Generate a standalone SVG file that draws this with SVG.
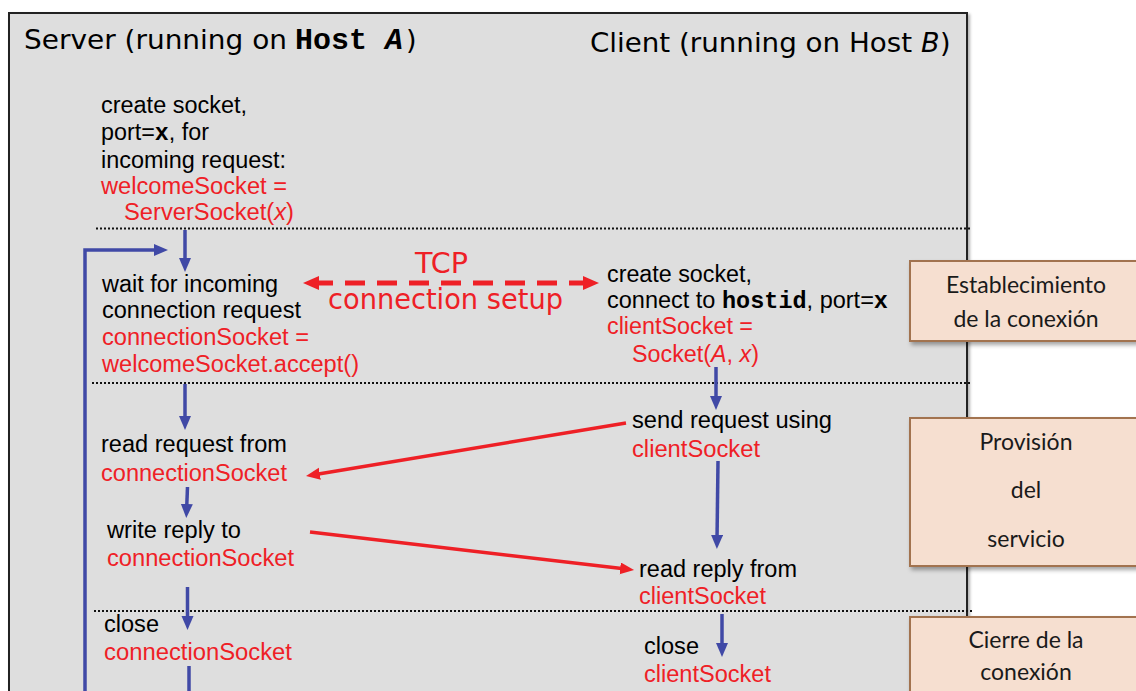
<svg xmlns="http://www.w3.org/2000/svg" width="1136" height="691" viewBox="0 0 1136 691">
<style>
.t{font-family:"Liberation Sans",Arial,sans-serif;font-size:23px;fill:#000}
.r{fill:#ef2026}
.ti{font-family:"DejaVu Sans",sans-serif;font-size:27px;fill:#000}
.m{font-family:"Liberation Mono","Courier New",monospace;font-weight:bold}
.tcp{font-family:"DejaVu Sans",sans-serif;font-size:28px;fill:#ee2026}
.lab{font-family:Lato,"Open Sans",sans-serif;font-size:23px;fill:#1a1a1a;text-anchor:middle}
.dot{stroke:#111;stroke-width:2;stroke-dasharray:2 2;fill:none}
.blue{stroke:#4049a6;stroke-width:3.5;fill:none;marker-end:url(#ab)}
.red{stroke:#ee2026;stroke-width:3.5;fill:none;marker-end:url(#ar)}
.box{fill:#f6dfd0;stroke:#a2734f;stroke-width:2;filter:url(#sh)}
</style>
<defs>
<marker id="ab" markerUnits="userSpaceOnUse" markerWidth="16" markerHeight="14" refX="6" refY="6" orient="auto"><path d="M0,0 L14,6 L0,12 z" fill="#4049a6"/></marker>
<marker id="ar" markerUnits="userSpaceOnUse" markerWidth="16" markerHeight="14" refX="6" refY="6" orient="auto"><path d="M0,0 L14,6 L0,12 z" fill="#ee2026"/></marker>
<marker id="ard" markerUnits="userSpaceOnUse" markerWidth="18" markerHeight="16" refX="6" refY="7" orient="auto-start-reverse"><path d="M0,0 L16,7 L0,14 z" fill="#ee2026"/></marker>
<filter id="sh" x="-10%" y="-10%" width="130%" height="130%"><feDropShadow dx="2" dy="3" stdDeviation="2" flood-color="#000" flood-opacity="0.35"/></filter>
<filter id="sh2" x="-5%" y="-5%" width="110%" height="110%"><feDropShadow dx="2" dy="2" stdDeviation="1.5" flood-color="#000" flood-opacity="0.3"/></filter>
</defs>
<rect width="1136" height="691" fill="#fff"/>
<g id="frame">
<rect x="9" y="13" width="958" height="720" fill="#dedede" stroke="#222" stroke-width="2" filter="url(#sh2)"/>
<line class="dot" x1="96" y1="228.5" x2="972" y2="228.5"/>
<line class="dot" x1="92" y1="383" x2="972" y2="383"/>
<line class="dot" x1="94" y1="611" x2="972" y2="611"/>
</g>
<g id="titles">
<text class="ti" x="24" y="49" textLength="263" lengthAdjust="spacingAndGlyphs">Server (running on</text>
<text class="ti m" x="295" y="49" style="font-size:30px">Host</text>
<text class="ti m" x="385" y="49" style="font-size:30px;font-style:italic">A</text>
<text class="ti" x="406" y="49">)</text>
<text class="ti" x="590" y="52" textLength="322" lengthAdjust="spacingAndGlyphs">Client (running on Host</text>
<text class="ti" x="921" y="52" style="font-style:italic">B</text>
<text class="ti" x="940" y="52">)</text>
</g>
<g id="server-create">
<text class="t" x="101" y="113" textLength="146" lengthAdjust="spacingAndGlyphs">create socket,</text>
<text class="t" x="101" y="140" textLength="108" lengthAdjust="spacingAndGlyphs">port=<tspan class="m">x</tspan>, for</text>
<text class="t" x="101" y="168" textLength="185" lengthAdjust="spacingAndGlyphs">incoming request:</text>
<text class="t r" x="101" y="194" textLength="186" lengthAdjust="spacingAndGlyphs">welcomeSocket =</text>
<text class="t r" x="124" y="220" textLength="170" lengthAdjust="spacingAndGlyphs">ServerSocket(<tspan font-style="italic">x</tspan>)</text>
</g>
<g id="server-wait">
<text class="t" x="102" y="292" textLength="176" lengthAdjust="spacingAndGlyphs">wait for incoming</text>
<text class="t" x="102" y="318" textLength="199" lengthAdjust="spacingAndGlyphs">connection request</text>
<text class="t r" x="102" y="345" textLength="207" lengthAdjust="spacingAndGlyphs">connectionSocket =</text>
<text class="t r" x="102" y="372" textLength="257" lengthAdjust="spacingAndGlyphs">welcomeSocket.accept()</text>
</g>
<g id="server-read">
<text class="t" x="101" y="452" textLength="186" lengthAdjust="spacingAndGlyphs">read request from</text>
<text class="t r" x="101" y="481" textLength="186" lengthAdjust="spacingAndGlyphs">connectionSocket</text>
</g>
<g id="server-write">
<text class="t" x="107" y="538" textLength="134" lengthAdjust="spacingAndGlyphs">write reply to</text>
<text class="t r" x="107" y="566" textLength="187" lengthAdjust="spacingAndGlyphs">connectionSocket</text>
</g>
<g id="server-close">
<text class="t" x="104" y="632" textLength="55" lengthAdjust="spacingAndGlyphs">close</text>
<text class="t r" x="104" y="660" textLength="188" lengthAdjust="spacingAndGlyphs">connectionSocket</text>
</g>
<g id="client-create">
<text class="t" x="607" y="282" textLength="145" lengthAdjust="spacingAndGlyphs">create socket,</text>
<text class="t" x="607" y="308" textLength="281" lengthAdjust="spacingAndGlyphs">connect to <tspan class="m">hostid</tspan>, port=<tspan class="m">x</tspan></text>
<text class="t r" x="607" y="334" textLength="146" lengthAdjust="spacingAndGlyphs">clientSocket =</text>
<text class="t r" x="632" y="362" textLength="127" lengthAdjust="spacingAndGlyphs">Socket(<tspan font-style="italic">A</tspan>, <tspan font-style="italic">x</tspan>)</text>
</g>
<g id="client-send">
<text class="t" x="632" y="428" textLength="200" lengthAdjust="spacingAndGlyphs">send request using</text>
<text class="t r" x="632" y="457" textLength="128" lengthAdjust="spacingAndGlyphs">clientSocket</text>
</g>
<g id="client-read">
<text class="t" x="639" y="577" textLength="158" lengthAdjust="spacingAndGlyphs">read reply from</text>
<text class="t r" x="639" y="604" textLength="127" lengthAdjust="spacingAndGlyphs">clientSocket</text>
</g>
<g id="client-close">
<text class="t" x="644" y="654" textLength="55" lengthAdjust="spacingAndGlyphs">close</text>
<text class="t r" x="644" y="682" textLength="127" lengthAdjust="spacingAndGlyphs">clientSocket</text>
</g>
<g id="tcp-label">
<text class="tcp" x="415" y="273" textLength="53" lengthAdjust="spacingAndGlyphs">TCP</text>
<text class="tcp" x="328" y="309" textLength="235" lengthAdjust="spacingAndGlyphs">connection setup</text>
</g>
<g id="phase-establish">
<rect class="box" x="910" y="261" width="240" height="80"/>
<text class="lab" x="1026" y="293">Establecimiento</text>
<text class="lab" x="1026" y="327">de la conexión</text>
</g>
<g id="phase-service">
<rect class="box" x="910" y="418" width="240" height="148"/>
<text class="lab" x="1026" y="450">Provisión</text>
<text class="lab" x="1026" y="498">del</text>
<text class="lab" x="1026" y="547">servicio</text>
</g>
<g id="phase-close">
<rect class="box" x="910" y="617" width="240" height="100"/>
<text class="lab" x="1026" y="648">Cierre de la</text>
<text class="lab" x="1026" y="680">conexión</text>
</g>
<g id="connectors">
<line class="blue" x1="185" y1="230" x2="185" y2="264"/>
<polyline class="blue" points="85,700 85,250 160,250"/>
<line class="blue" x1="185" y1="384" x2="185" y2="422"/>
<line class="blue" x1="716" y1="367" x2="716" y2="402"/>
<line class="blue" x1="187.5" y1="487" x2="186.6" y2="510"/>
<line class="blue" x1="718" y1="461" x2="717" y2="541"/>
<line class="blue" x1="187.5" y1="587" x2="187.5" y2="622"/>
<line stroke="#4049a6" stroke-width="3.5" x1="189" y1="666" x2="189" y2="700"/>
<line class="blue" x1="722" y1="614" x2="722" y2="649"/>
<line class="red" x1="626" y1="423" x2="313.9" y2="474.7"/>
<line class="red" x1="310" y1="532" x2="626.1" y2="569.1"/>
<line stroke="#ee2026" stroke-width="5" stroke-dasharray="20 12" x1="313" y1="283" x2="589" y2="283" marker-start="url(#ard)" marker-end="url(#ard)"/>
</g>
</svg>
